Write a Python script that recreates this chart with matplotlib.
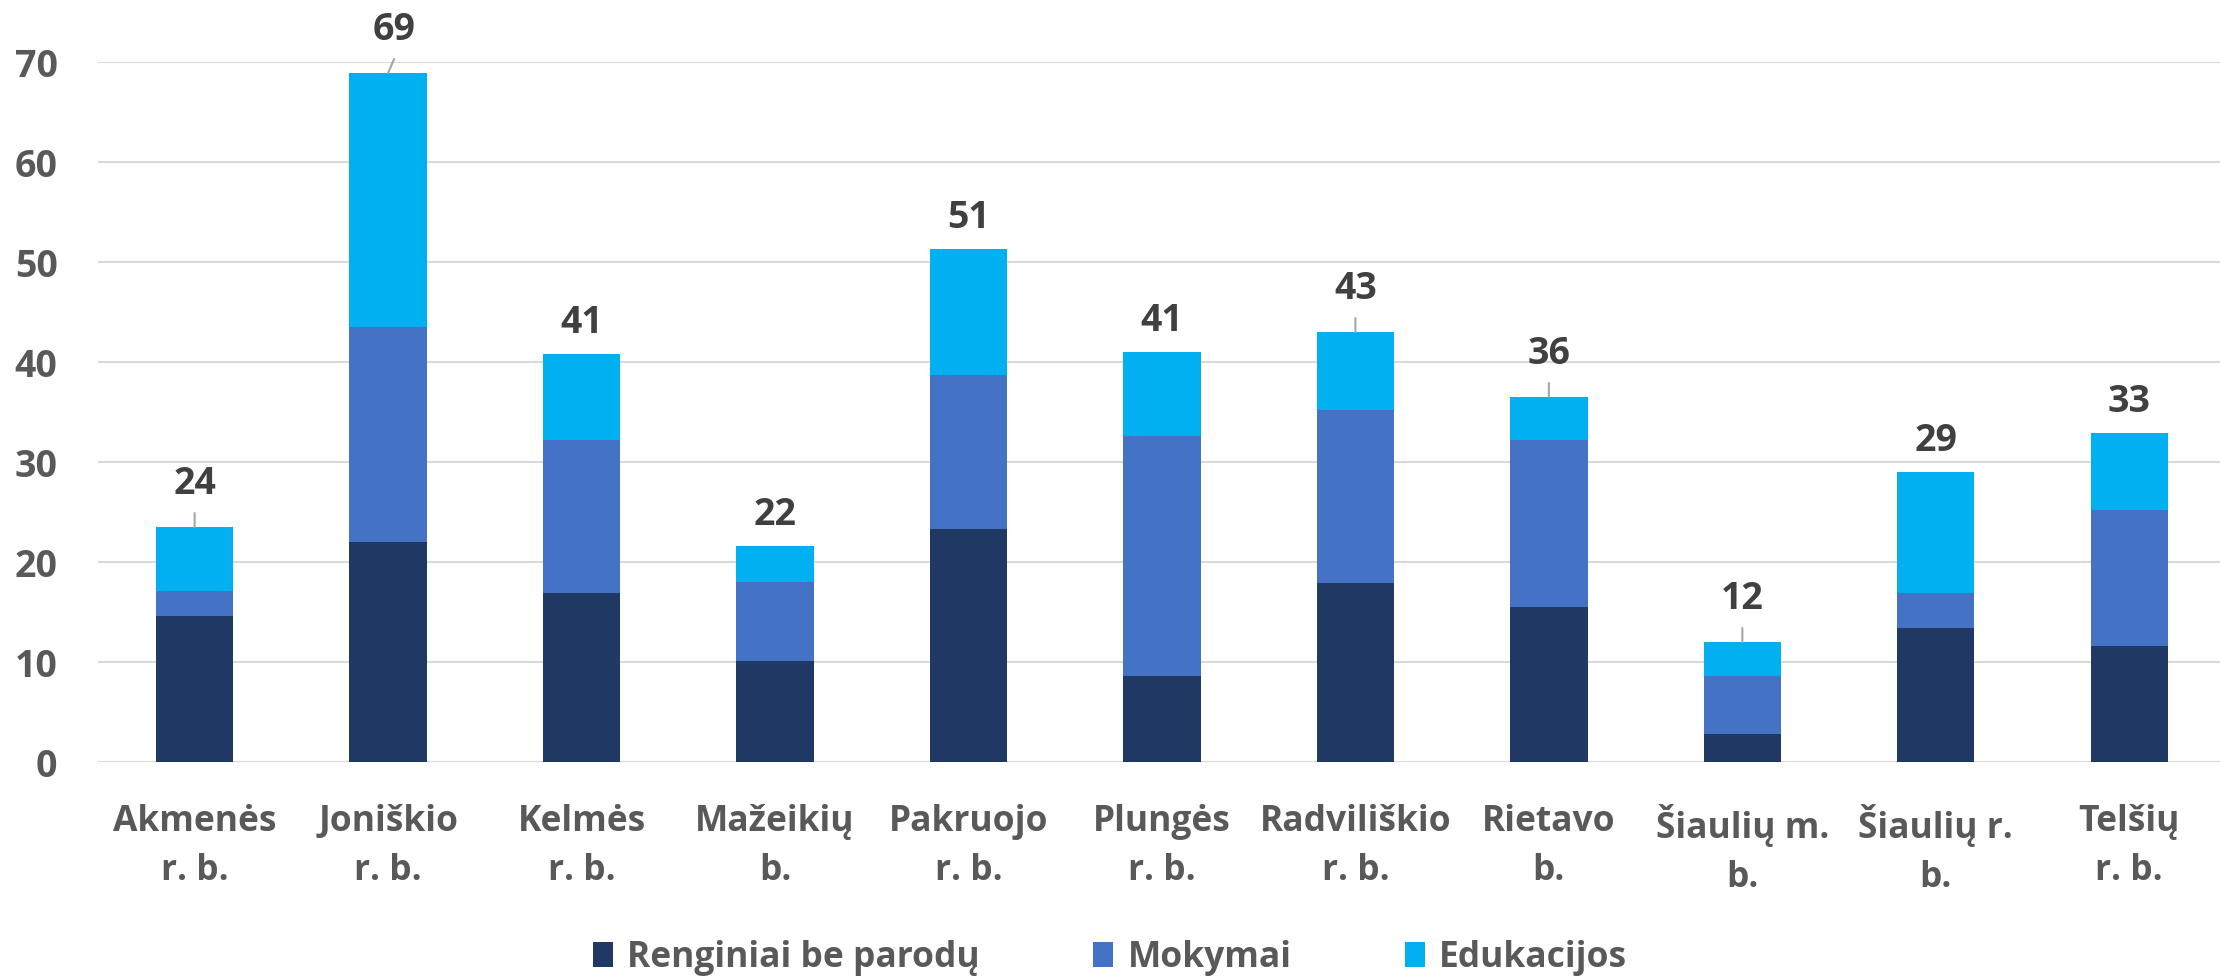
import numpy as np
import matplotlib.pyplot as plt

# values
categories = ['Akmenės\nr. b.', 'Joniškio\nr. b.', 'Kelmės\nr. b.', 'Mažeikių\nb.',
              'Pakruojo\nr. b.', 'Plungės\nr. b.', 'Radviliškio\nr. b.', 'Rietavo\nb.',
              'Šiaulių m.\nb.', 'Šiaulių r.\nb.', 'Telšių\nr. b.']
renginiai = [14.6, 22.0, 16.9, 10.1, 23.3, 8.6, 17.9, 15.5, 2.8, 13.4, 11.6]
mokymai = [2.5, 21.5, 15.3, 7.9, 15.4, 24.0, 17.3, 16.7, 5.8, 3.5, 13.6]
edukacijos = [6.4, 25.4, 8.6, 3.6, 12.6, 8.4, 7.8, 4.3, 3.4, 12.1, 7.7]
totals = [24, 69, 41, 22, 51, 41, 43, 36, 12, 29, 33]
series_names = ['Renginiai be parodų', 'Mokymai', 'Edukacijos']

# which labels get a leader line in the original
leader = [True, True, False, False, False, False, True, True, True, False, False]

colors = ['#203864', '#4472C4', '#00B0F0']
plt.rcParams['font.family'] = ['Open Sans', 'DejaVu Sans']
plt.rcParams['font.weight'] = 'bold'

fig = plt.figure(figsize=(22.2, 9.8), dpi=100)
ax = fig.add_axes([0.0441, 0.2224, 0.9586, 0.7143])

x = np.arange(len(categories))
r = np.array(renginiai)
m = np.array(mokymai)
e = np.array(edukacijos)
w = 0.4
ax.bar(x, r, w, color=colors[0], label=series_names[0], zorder=3)
ax.bar(x, m, w, bottom=r, color=colors[1], label=series_names[1], zorder=3)
ax.bar(x, e, w, bottom=r + m, color=colors[2], label=series_names[2], zorder=3)

top = r + m + e
for i in range(len(x)):
    if leader[i]:
        dx = 6 if i == 1 else 0
        ax.annotate('', xy=(x[i], top[i]), xytext=(x[i] + dx / 193.5, top[i] + 1.4),
                    arrowprops=dict(arrowstyle='-', color='#a6a6a6', lw=1.5,
                                    shrinkA=0, shrinkB=0), annotation_clip=False)
        off = 31
    else:
        dx = 0
        off = 22
    ax.annotate(str(totals[i]), xy=(x[i], top[i]), xytext=(dx * 0.72, off),
                textcoords='offset points', ha='center', va='center',
                fontsize=27, fontweight='bold', color='#404040', annotation_clip=False)

ax.set_ylim(0, 70)
ax.set_xlim(-0.5, 10.5)
ax.set_yticks(range(0, 71, 10))
ax.set_xticks(x)
ax.set_xticklabels(categories, fontsize=25.5, color='#595959', linespacing=1.5)
ax.tick_params(axis='y', labelsize=27, labelcolor='#595959', length=0, pad=29)
ax.tick_params(axis='x', length=0, pad=30)
ax.grid(axis='y', color='#d9d9d9', lw=1.5, zorder=0)
for s in ax.spines.values():
    s.set_visible(False)

fig.legend(loc='center', bbox_to_anchor=(0.5, 1 - 958 / 980), ncol=3, frameon=False,
           fontsize=25.5, labelcolor='#595959', handlelength=0.57, handleheight=0.7,
           handletextpad=0.4, columnspacing=3.2)

fig.savefig('out.png', dpi=100)
